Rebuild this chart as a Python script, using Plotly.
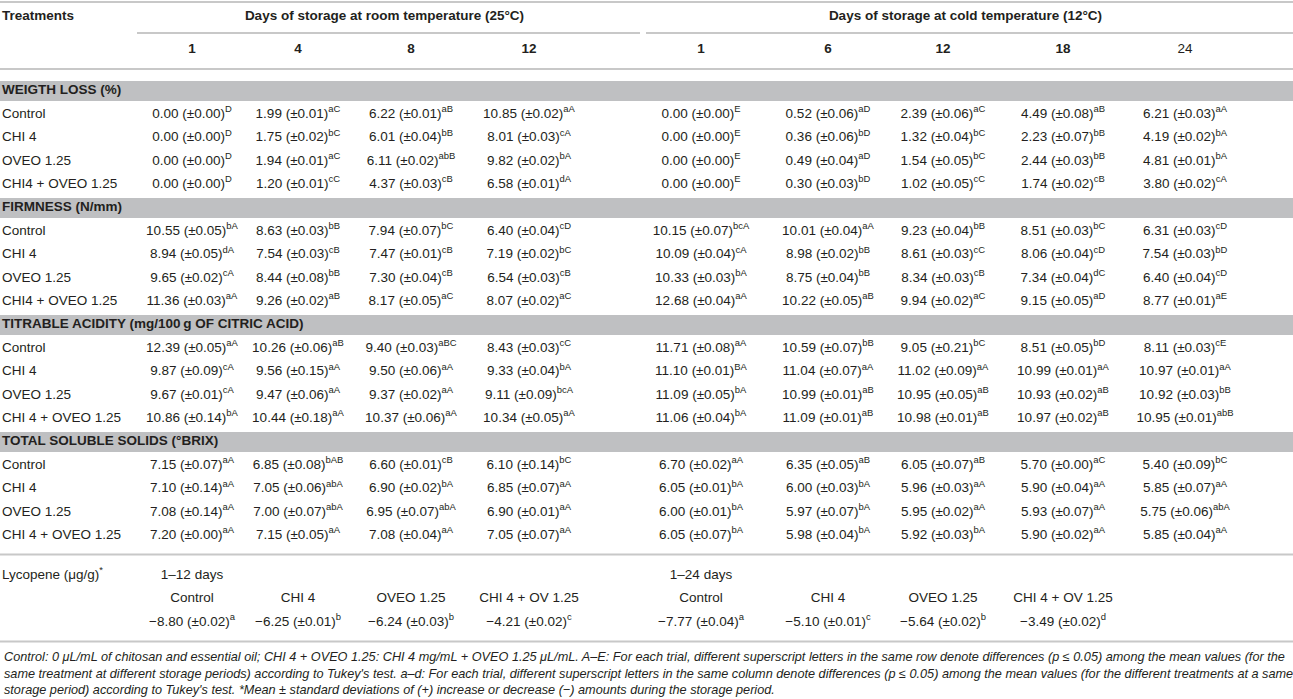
import plotly.graph_objects as go

# 表頭 / header
room_days = ["1", "4", "8", "12"]
cold_days = ["1", "6", "12", "18", "24"]
group_titles = ["Days of storage at room temperature (25°C)",
                "Days of storage at cold temperature (12°C)"]

# 各區段標題與處理組
section_titles = ["WEIGTH LOSS (%)", "FIRMNESS (N/mm)",
                  "TITRABLE ACIDITY (mg/100\u2009g OF CITRIC ACID)",
                  "TOTAL SOLUBLE SOLIDS (°BRIX)"]
treat_short = ["Control", "CHI 4", "OVEO 1.25", "CHI4 + OVEO 1.25"]
treat_long = ["Control", "CHI 4", "OVEO 1.25", "CHI 4 + OVEO 1.25"]

# 失重 (%)
wl_mean = [[0.00, 1.99, 6.22, 10.85, 0.00, 0.52, 2.39, 4.49, 6.21],
           [0.00, 1.75, 6.01, 8.01, 0.00, 0.36, 1.32, 2.23, 4.19],
           [0.00, 1.94, 6.11, 9.82, 0.00, 0.49, 1.54, 2.44, 4.81],
           [0.00, 1.20, 4.37, 6.58, 0.00, 0.30, 1.02, 1.74, 3.80]]
wl_sd = [[0.00, 0.01, 0.01, 0.02, 0.00, 0.06, 0.06, 0.08, 0.03],
         [0.00, 0.02, 0.04, 0.03, 0.00, 0.06, 0.04, 0.07, 0.02],
         [0.00, 0.01, 0.02, 0.02, 0.00, 0.04, 0.05, 0.03, 0.01],
         [0.00, 0.01, 0.03, 0.01, 0.00, 0.03, 0.05, 0.02, 0.02]]
wl_sig = [["D", "aC", "aB", "aA", "E", "aD", "aC", "aB", "aA"],
          ["D", "bC", "bB", "cA", "E", "bD", "bC", "bB", "bA"],
          ["D", "aC", "abB", "bA", "E", "aD", "bC", "bB", "bA"],
          ["D", "cC", "cB", "dA", "E", "bD", "cC", "cB", "cA"]]

# 硬度 (N/mm)
firm_mean = [[10.55, 8.63, 7.94, 6.40, 10.15, 10.01, 9.23, 8.51, 6.31],
             [8.94, 7.54, 7.47, 7.19, 10.09, 8.98, 8.61, 8.06, 7.54],
             [9.65, 8.44, 7.30, 6.54, 10.33, 8.75, 8.34, 7.34, 6.40],
             [11.36, 9.26, 8.17, 8.07, 12.68, 10.22, 9.94, 9.15, 8.77]]
firm_sd = [[0.05, 0.03, 0.07, 0.04, 0.07, 0.04, 0.04, 0.03, 0.03],
           [0.05, 0.03, 0.01, 0.02, 0.04, 0.02, 0.03, 0.04, 0.03],
           [0.02, 0.08, 0.04, 0.03, 0.03, 0.04, 0.03, 0.04, 0.04],
           [0.03, 0.02, 0.05, 0.02, 0.04, 0.05, 0.02, 0.05, 0.01]]
firm_sig = [["bA", "bB", "bC", "cD", "bcA", "aA", "bB", "bC", "cD"],
            ["dA", "cB", "cB", "bC", "cA", "bB", "cC", "cD", "bD"],
            ["cA", "bB", "cB", "cB", "bA", "bB", "cB", "dC", "cD"],
            ["aA", "aB", "aC", "aC", "aA", "aB", "aC", "aD", "aE"]]

# 可滴定酸
ta_mean = [[12.39, 10.26, 9.40, 8.43, 11.71, 10.59, 9.05, 8.51, 8.11],
           [9.87, 9.56, 9.50, 9.33, 11.10, 11.04, 11.02, 10.99, 10.97],
           [9.67, 9.47, 9.37, 9.11, 11.09, 10.99, 10.95, 10.93, 10.92],
           [10.86, 10.44, 10.37, 10.34, 11.06, 11.09, 10.98, 10.97, 10.95]]
ta_sd = [[0.05, 0.06, 0.03, 0.03, 0.08, 0.07, 0.21, 0.05, 0.03],
         [0.09, 0.15, 0.06, 0.04, 0.01, 0.07, 0.09, 0.01, 0.01],
         [0.01, 0.06, 0.02, 0.09, 0.05, 0.01, 0.05, 0.02, 0.03],
         [0.14, 0.18, 0.06, 0.05, 0.04, 0.01, 0.01, 0.02, 0.01]]
ta_sig = [["aA", "aB", "aBC", "cC", "aA", "bB", "bC", "bD", "cE"],
          ["cA", "aA", "aA", "bA", "BA", "aA", "aA", "aA", "aA"],
          ["cA", "aA", "aA", "bcA", "bA", "aB", "aB", "aB", "bB"],
          ["bA", "aA", "aA", "aA", "bA", "aB", "aB", "aB", "abB"]]

# 總可溶性固形物
tss_mean = [[7.15, 6.85, 6.60, 6.10, 6.70, 6.35, 6.05, 5.70, 5.40],
            [7.10, 7.05, 6.90, 6.85, 6.05, 6.00, 5.96, 5.90, 5.85],
            [7.08, 7.00, 6.95, 6.90, 6.00, 5.97, 5.95, 5.93, 5.75],
            [7.20, 7.15, 7.08, 7.05, 6.05, 5.98, 5.92, 5.90, 5.85]]
tss_sd = [[0.07, 0.08, 0.01, 0.14, 0.02, 0.05, 0.07, 0.00, 0.09],
          [0.14, 0.06, 0.02, 0.07, 0.01, 0.03, 0.03, 0.04, 0.07],
          [0.14, 0.07, 0.07, 0.01, 0.01, 0.07, 0.02, 0.07, 0.06],
          [0.00, 0.05, 0.04, 0.07, 0.07, 0.04, 0.03, 0.02, 0.04]]
tss_sig = [["aA", "bAB", "cB", "bC", "aA", "aB", "aB", "aC", "bC"],
           ["aA", "abA", "bA", "aA", "bA", "bA", "aA", "aA", "aA"],
           ["aA", "abA", "abA", "aA", "bA", "bA", "aA", "aA", "abA"],
           ["aA", "aA", "aA", "aA", "bA", "bA", "bA", "aA", "aA"]]

# 茄紅素
lyc_label = "Lycopene (μg/g)<sup>*</sup>"
lyc_periods = ["1–12 days", "1–24 days"]
lyc_names = ["Control", "CHI 4", "OVEO 1.25", "CHI 4 + OV 1.25"]
lyc12_mean = [-8.80, -6.25, -6.24, -4.21]
lyc12_sd = [0.02, 0.01, 0.03, 0.02]
lyc12_sig = ["a", "b", "b", "c"]
lyc24_mean = [-7.77, -5.10, -5.64, -3.49]
lyc24_sd = [0.04, 0.01, 0.02, 0.02]
lyc24_sig = ["a", "c", "b", "d"]

footnote = ("Control: 0 μL/mL of chitosan and essential oil; CHI 4 + OVEO 1.25: CHI 4 mg/mL + OVEO 1.25 μL/mL. "
            "A–E: For each trial, different superscript letters in the same row denote differences (p ≤ 0.05) among the mean values (for the<br>"
            "same treatment at different storage periods) according to Tukey's test. a–d: For each trial, different superscript letters "
            "in the same column denote differences (p ≤ 0.05) among the mean values (for the different treatments at a same<br>"
            "storage period) according to Tukey's test. *Mean ± standard deviations of (+) increase or decrease (−) amounts during the storage period.")

# 版面
W, H = 1293, 699
col_x = [192, 298, 411, 529, 701, 828, 943, 1063, 1185]
group_span = [(137, 640), (646, W)]
pitch = 23.4
first_sec = 91
line_col = "#c8c8c8"
bar_col = "#bfc0c2"
txt_col = "#231f20"
fam = "Liberation Sans, Arial, sans-serif"


def fmt(m, s, sig):
    return f"{m:.2f} (±{s:.2f})<sup>{sig}</sup>".replace("-", "−")


cx, cy, ct = [], [], []   # 置中文字
lx, ly, lt = [], [], []   # 靠左文字
shapes = []

# 表頭
lx.append(2); ly.append(17); lt.append("<b>Treatments</b>")
for (a, b), g in zip(group_span, group_titles):
    cx.append((a + b) / 2 - 4); cy.append(17); ct.append(f"<b>{g}</b>")
    shapes.append(dict(type="line", x0=a, x1=b, y0=33, y1=33))
days = room_days + cold_days
for i, d in enumerate(days):
    cx.append(col_x[i]); cy.append(50)
    ct.append(d if i == len(days) - 1 else f"<b>{d}</b>")
shapes.append(dict(type="line", x0=0, x1=W, y0=2, y1=2))
shapes.append(dict(type="line", x0=0, x1=W, y0=69, y1=69))

blocks = [(wl_mean, wl_sd, wl_sig, treat_short),
          (firm_mean, firm_sd, firm_sig, treat_short),
          (ta_mean, ta_sd, ta_sig, treat_long),
          (tss_mean, tss_sd, tss_sig, treat_long)]
y = first_sec
for title, (mean, sd, sig, names) in zip(section_titles, blocks):
    shapes.append(dict(type="rect", x0=0, x1=W, y0=y - 10, y1=y + 10,
                       fillcolor=bar_col, line_width=0, layer="below"))
    lx.append(2); ly.append(y); lt.append(f"<b>{title}</b>")
    for r in range(4):
        y += pitch
        lx.append(2); ly.append(y); lt.append(names[r])
        for c in range(9):
            cx.append(col_x[c]); cy.append(y)
            ct.append(fmt(mean[r][c], sd[r][c], sig[r][c]))
    y += pitch

y_line = y - pitch + 19
shapes.append(dict(type="line", x0=0, x1=W, y0=y_line, y1=y_line))
y_lyc = y_line + 21
lx.append(2); ly.append(y_lyc); lt.append(lyc_label)
for k, per in enumerate(lyc_periods):
    cx.append(col_x[k * 4]); cy.append(y_lyc); ct.append(per)
for k, (mean, sd, sig) in enumerate([(lyc12_mean, lyc12_sd, lyc12_sig),
                                     (lyc24_mean, lyc24_sd, lyc24_sig)]):
    for j in range(4):
        cx.append(col_x[k * 4 + j]); cy.append(y_lyc + 23); ct.append(lyc_names[j])
        cx.append(col_x[k * 4 + j]); cy.append(y_lyc + 47)
        ct.append(fmt(mean[j], sd[j], sig[j]))
y_line2 = y_lyc + 66
shapes.append(dict(type="line", x0=0, x1=W, y0=y_line2, y1=y_line2))

for s in shapes:
    s.update(xref="x", yref="y")
    if s["type"] == "line":
        s["line"] = dict(color=line_col, width=2)

font = dict(family=fam, size=13.5, color=txt_col)
fig = go.Figure()
fig.add_trace(go.Scatter(x=cx, y=cy, text=ct, mode="text", textposition="middle center",
                         textfont=font, hoverinfo="skip"))
fig.add_trace(go.Scatter(x=lx, y=ly, text=lt, mode="text", textposition="middle right",
                         textfont=font, hoverinfo="skip"))

fig.add_annotation(x=2, y=y_line2 + 6, xref="x", yref="y", text=f"<i>{footnote}</i>",
                   showarrow=False, xanchor="left", yanchor="top", align="left",
                   font=dict(family=fam, size=12.7, color=txt_col))

fig.update_xaxes(range=[0, W], visible=False, fixedrange=True)
fig.update_yaxes(range=[H, 0], visible=False, fixedrange=True)
fig.update_layout(
    shapes=shapes,
    showlegend=False,
    width=W,
    height=H,
    margin=dict(l=0, r=0, t=0, b=0),
    plot_bgcolor="white",
    paper_bgcolor="white",
)

fig.write_html("out.html", config={"displayModeBar": False},
               post_script="document.body.style.margin='0';")
